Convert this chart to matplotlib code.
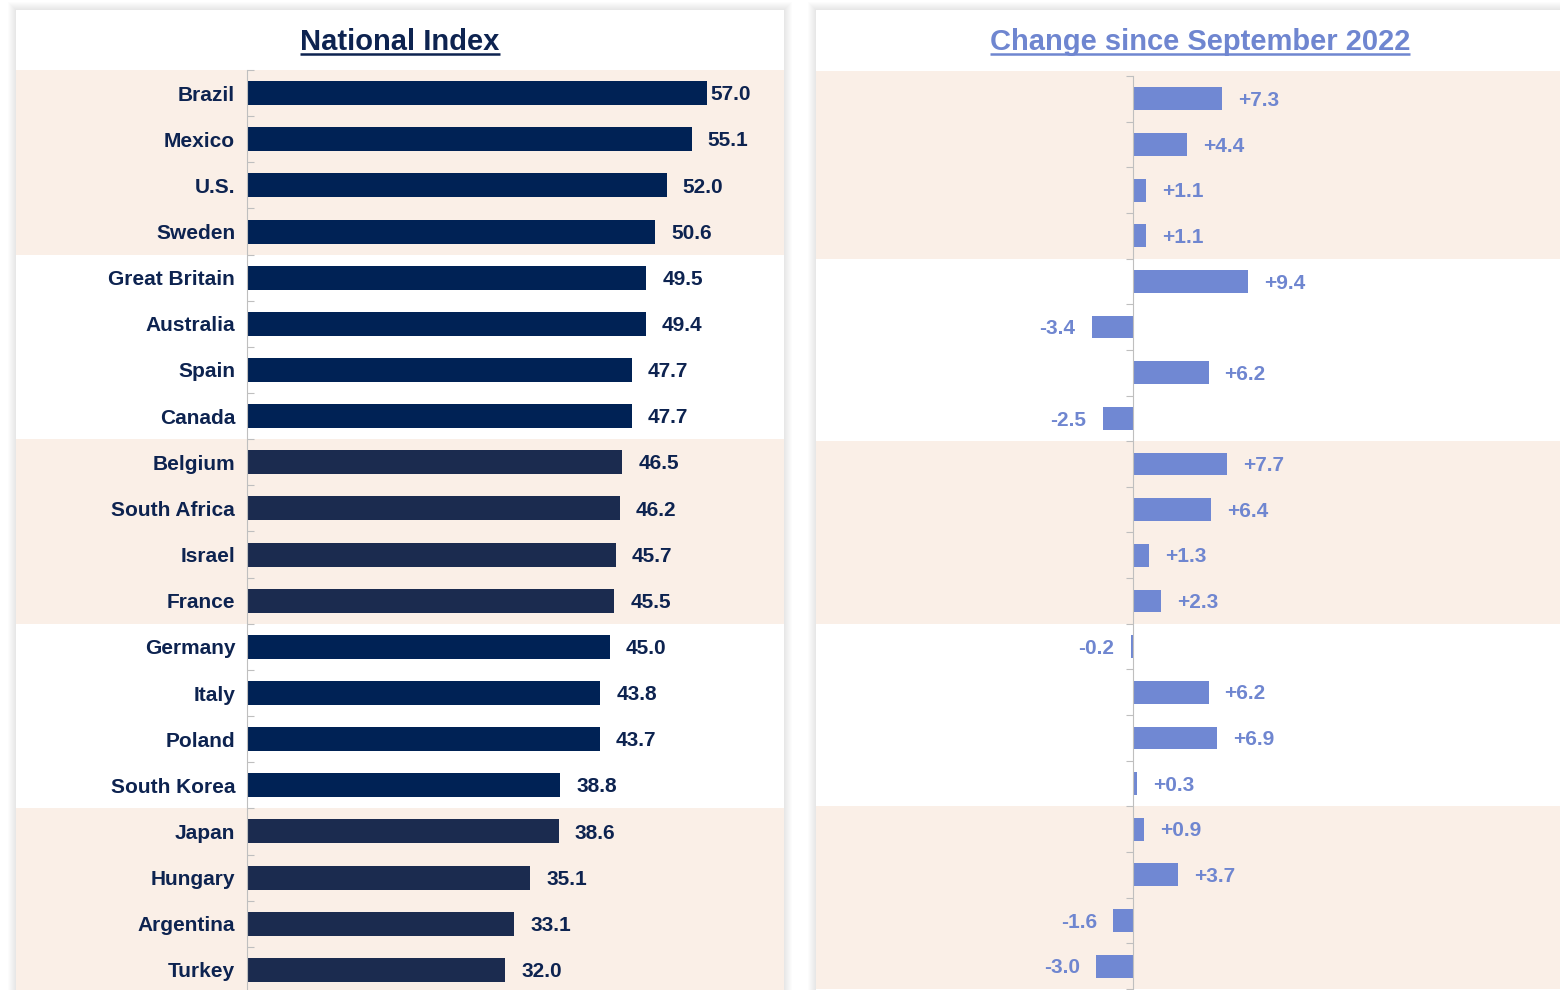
import numpy as np
import matplotlib
matplotlib.use("Agg")
import matplotlib.pyplot as plt
from matplotlib.patches import Rectangle
from matplotlib.lines import Line2D

# ---------------- data ----------------
countries = ["Brazil", "Mexico", "U.S.", "Sweden", "Great Britain", "Australia",
             "Spain", "Canada", "Belgium", "South Africa", "Israel", "France",
             "Germany", "Italy", "Poland", "South Korea", "Japan", "Hungary",
             "Argentina", "Turkey"]
national_index = [57.0, 55.1, 52.0, 50.6, 49.5, 49.4, 47.7, 47.7, 46.5, 46.2,
                  45.7, 45.5, 45.0, 43.8, 43.7, 38.8, 38.6, 35.1, 33.1, 32.0]
change_since_sep_2022 = [7.3, 4.4, 1.1, 1.1, 9.4, -3.4, 6.2, -2.5, 7.7, 6.4,
                         1.3, 2.3, -0.2, 6.2, 6.9, 0.3, 0.9, 3.7, -1.6, -3.0]
group = [0, 0, 0, 0, 1, 1, 1, 1, 2, 2, 2, 2, 3, 3, 3, 3, 4, 4, 4, 4]
title_left = "National Index"
title_right = "Change since September 2022"

# ---------------- style ----------------
plt.rcParams["font.family"] = ["Liberation Sans", "DejaVu Sans"]
plt.rcParams["font.weight"] = "bold"

W, H = 1560, 990
NAVY = "#0D2350"
BAR_DARK = "#002255"
BAR_GREY = "#1B2B4F"
BEIGE = "#FAEFE7"
LIGHT = "#7088D3"
LIGHT_TXT = "#6F86D0"
AXIS = "#BFBFBF"
FS = 15

fig = plt.figure(figsize=(W / 100, H / 100), dpi=100)
fig.patch.set_facecolor("white")


def fig_rect(x0, y0, x1, y1):
    """pixel box (top-left origin) -> figure fraction rect"""
    return [x0 / W, 1 - y1 / H, (x1 - x0) / W, (y1 - y0) / H]


# cards with soft shadow
for (cx0, cy0, cx1, cy1) in [(16, 10, 784, 1000), (816, 10, 1580, 1000)]:
    for k in range(1, 9):
        r = Rectangle(((cx0 - k) / W, 1 - (cy1 + k) / H), (cx1 - cx0 + 2 * k) / W,
                      (cy1 - cy0 + 2 * k) / H, transform=fig.transFigure,
                      facecolor="black", alpha=0.010, edgecolor="none", zorder=-3)
        fig.add_artist(r)
    fig.add_artist(Rectangle((cx0 / W, 1 - cy1 / H), (cx1 - cx0) / W, (cy1 - cy0) / H,
                             transform=fig.transFigure, facecolor="white",
                             edgecolor="none", zorder=-2))

n = len(countries)
y = np.arange(n)
bar_colors = [BAR_GREY if g in (2, 4) else BAR_DARK for g in group]


def bands(ax, extend_top=0.0):
    for g in range(0, 5, 2):
        lo = 4 * g - 0.5
        hi = 4 * g + 3.5
        if g == 0:
            lo -= extend_top
        p = ax.axhspan(lo, hi, color=BEIGE, zorder=0, lw=0)
        p.set_clip_on(False)


# ---------------- left panel ----------------
axl = fig.add_axes(fig_rect(16, 70, 784, 993))
axl.set_facecolor("white")
axl.set_xlim(-(247 - 16) / 8.07, (784 - 247) / 8.07)
axl.set_ylim(n - 0.5, -0.5)
bands(axl)
axl.barh(y, national_index, height=0.52, color=bar_colors, zorder=2)
for spine in ["top", "right", "bottom"]:
    axl.spines[spine].set_visible(False)
axl.spines["left"].set_position(("data", 0))
axl.spines["left"].set_color(AXIS)
axl.spines["left"].set_zorder(3)
axl.set_xticks([])
axl.set_yticks(np.arange(-0.5, n, 1))
axl.tick_params(axis="y", which="major", direction="in", length=5, color=AXIS,
                labelleft=False)
axl.set_yticks(y, minor=True)
axl.set_yticklabels(countries, minor=True, fontsize=FS, color=NAVY, fontweight="bold")
axl.tick_params(axis="y", which="minor", length=0, pad=8.5)
for i, v in enumerate(national_index):
    off = 2.2 if i == 0 else 11.5
    axl.annotate(f"{v:.1f}", xy=(v, i), xytext=(off, -1.2), textcoords="offset points",
                 ha="left", va="center", fontsize=FS, color=NAVY, fontweight="bold",
                 zorder=4)

# ---------------- right panel ----------------
axr = fig.add_axes(fig_rect(816, 76, 1560, 989))
axr.set_facecolor("white")
axr.set_xlim(-(1133 - 816) / 12.2, (1560 - 1133) / 12.2)
axr.set_ylim(n - 0.5, -0.5)
bands(axr, extend_top=5 / 45.6)
axr.barh(y, change_since_sep_2022, height=0.5, color=LIGHT, zorder=2)
for spine in ["top", "right", "bottom"]:
    axr.spines[spine].set_visible(False)
axr.spines["left"].set_position(("data", 0))
axr.spines["left"].set_color(AXIS)
axr.spines["left"].set_zorder(3)
axr.set_xticks([])
axr.set_yticks(np.arange(-0.5, n, 1))
axr.tick_params(axis="y", which="major", direction="out", length=5, color=AXIS,
                labelleft=False)
for i, v in enumerate(change_since_sep_2022):
    if v >= 0:
        axr.annotate(f"{v:+.1f}", xy=(v, i), xytext=(11.5, -1.2), textcoords="offset points",
                     ha="left", va="center", fontsize=FS, color=LIGHT_TXT,
                     fontweight="bold", zorder=4)
    else:
        axr.annotate(f"{v:+.1f}", xy=(v, i), xytext=(-11.5, -1.2), textcoords="offset points",
                     ha="right", va="center", fontsize=FS, color=LIGHT_TXT,
                     fontweight="bold", zorder=4)

# ---------------- titles (underlined) ----------------
titles = [(title_left, 400, NAVY), (title_right, 1200, LIGHT_TXT)]
tobjs = []
for txt, cx, col in titles:
    t = fig.text(cx / W, 1 - 50 / H, txt, ha="center", va="baseline", fontsize=21,
                 fontweight="bold", color=col)
    tobjs.append((t, col))
fig.canvas.draw()
r = fig.canvas.get_renderer()
for t, col in tobjs:
    bb = t.get_window_extent(r)
    yy = 1 - 54 / H
    fig.add_artist(Line2D([bb.x0 / W, bb.x1 / W], [yy, yy], transform=fig.transFigure,
                          color=col, lw=1.8, solid_capstyle="butt"))

fig.savefig("out.png", dpi=100)
